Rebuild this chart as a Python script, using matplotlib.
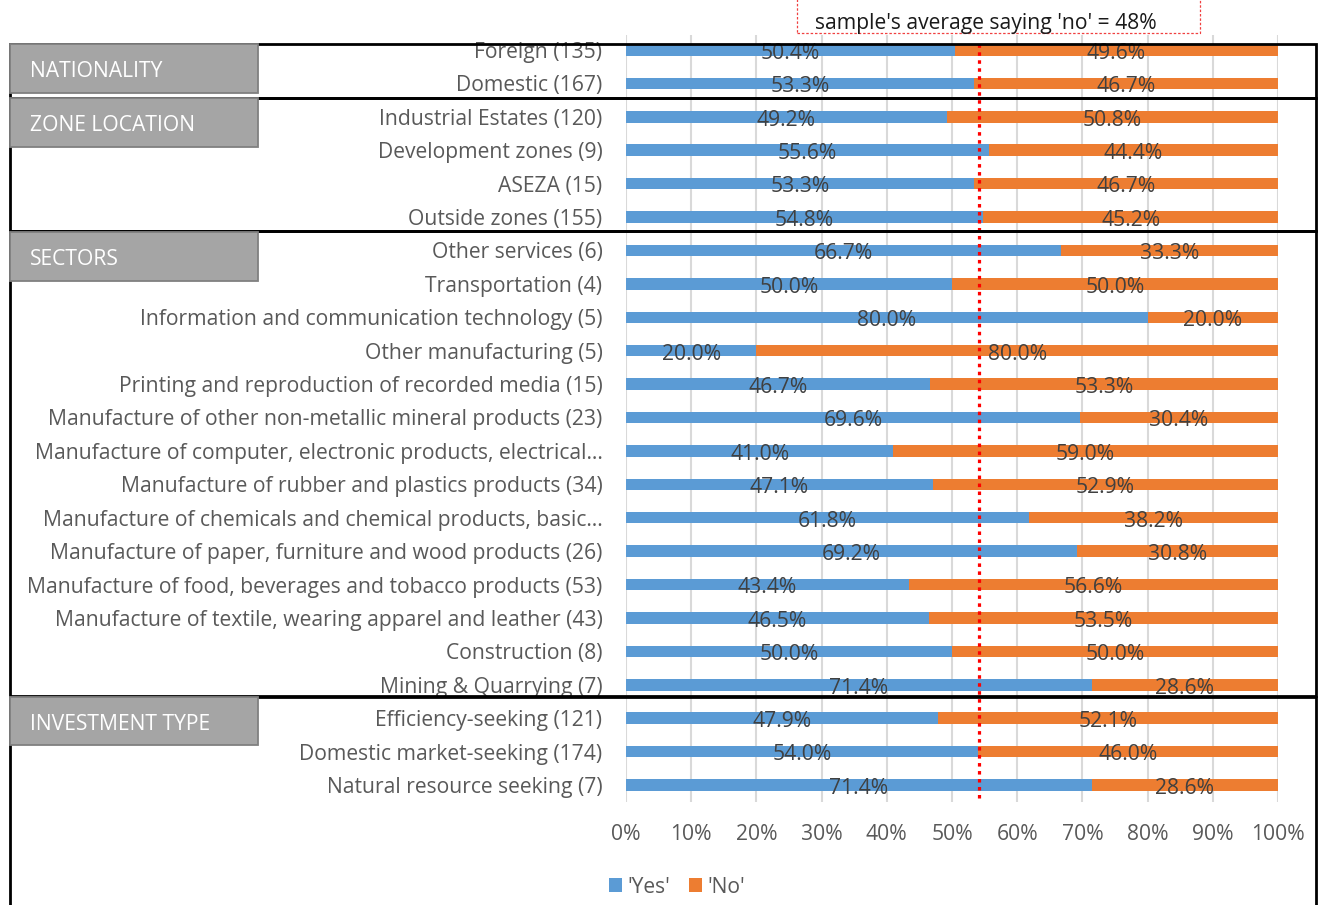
import matplotlib
matplotlib.use("Agg")
import matplotlib.pyplot as plt
from matplotlib.patches import Rectangle
import numpy as np

plt.rcParams['font.family'] = ['Open Sans', 'DejaVu Sans']

categories = [
    "Foreign (135)",
    "Domestic (167)",
    "Industrial Estates (120)",
    "Development zones (9)",
    "ASEZA (15)",
    "Outside zones (155)",
    "Other services (6)",
    "Transportation (4)",
    "Information and communication technology (5)",
    "Other manufacturing (5)",
    "Printing and reproduction of recorded media (15)",
    "Manufacture of other non-metallic mineral products (23)",
    "Manufacture of computer, electronic products, electrical\u2026",
    "Manufacture of rubber and plastics products (34)",
    "Manufacture of chemicals and chemical products, basic\u2026",
    "Manufacture of paper, furniture and wood products (26)",
    "Manufacture of food, beverages and tobacco products (53)",
    "Manufacture of textile, wearing apparel and leather (43)",
    "Construction (8)",
    "Mining & Quarrying (7)",
    "Efficiency-seeking (121)",
    "Domestic market-seeking (174)",
    "Natural resource seeking (7)",
]
yes_pct = [50.4, 53.3, 49.2, 55.6, 53.3, 54.8, 66.7, 50.0, 80.0, 20.0, 46.7,
           69.6, 41.0, 47.1, 61.8, 69.2, 43.4, 46.5, 50.0, 71.4, 47.9, 54.0, 71.4]
no_pct = [49.6, 46.7, 50.8, 44.4, 46.7, 45.2, 33.3, 50.0, 20.0, 80.0, 53.3,
          30.4, 59.0, 52.9, 38.2, 30.8, 56.6, 53.5, 50.0, 28.6, 52.1, 46.0, 28.6]
groups = ["NATIONALITY", "ZONE LOCATION", "SECTORS", "INVESTMENT TYPE"]
average_line = 54.2
average_text = "sample's average saying 'no' = 48%"
x_ticks = [0, 10, 20, 30, 40, 50, 60, 70, 80, 90, 100]

BLUE = "#5b9bd5"
ORANGE = "#ed7d31"
TXT = "#595959"
LBL = "#404040"
FS = 15.2

W, H = 1322, 905
fig = plt.figure(figsize=(W / 100, H / 100), dpi=100)


def fx(px):
    return px / W


def fy(py):
    return 1 - py / H


ax = fig.add_axes([fx(626), fy(802), fx(1278) - fx(626), (802 - 35) / H])

y = np.arange(len(categories))
bh = 0.345
ax.barh(y, yes_pct, height=bh, color=BLUE, label="'Yes'", zorder=2)
ax.barh(y, no_pct, left=yes_pct, height=bh, color=ORANGE, label="'No'", zorder=2)

for i in range(len(categories)):
    ax.text(yes_pct[i] / 2, y[i] + 0.1, f"{yes_pct[i]:.1f}%", ha="center",
            va="center", fontsize=FS, color=LBL, zorder=3)
    ax.text(yes_pct[i] + no_pct[i] / 2, y[i] + 0.1, f"{no_pct[i]:.1f}%",
            ha="center", va="center", fontsize=FS, color=LBL, zorder=3)

ax.set_xlim(0, 100)
ax.set_ylim(22.51, -0.45)
ax.set_yticks(y)
ax.set_yticklabels(categories, fontsize=FS, color=TXT)
ax.set_xticks(x_ticks)
ax.set_xticklabels([f"{t}%" for t in x_ticks], fontsize=FS, color=TXT)
ax.tick_params(axis="both", length=0)
ax.tick_params(axis="y", pad=17)
ax.tick_params(axis="x", pad=16)
for s in ax.spines.values():
    s.set_visible(False)
ax.grid(axis="x", color="#d9d9d9", linewidth=1.5, zorder=0)
ax.set_axisbelow(True)

ax.axvline(average_line, color="#ff0000", linewidth=2.3,
           linestyle=(0, (1.1, 1.4)), zorder=4, ymin=-0.005, ymax=0.99)

leg = ax.legend(loc="center", bbox_to_anchor=(fx(677), fy(887)),
                bbox_transform=fig.transFigure, ncol=2, frameon=False,
                fontsize=FS, handlelength=0.6, handleheight=0.6,
                handletextpad=0.25, columnspacing=0.9)
for t in leg.get_texts():
    t.set_color(TXT)

# group frames
frames = [(44, 98), (98, 231), (231, 696), (697, 920)]
for top, bot in frames:
    fig.patches.append(Rectangle((fx(10), fy(bot)), fx(1316) - fx(10),
                                 (bot - top) / H, transform=fig.transFigure,
                                 fill=False, edgecolor="black", linewidth=2.0,
                                 zorder=5))

# grey group labels
label_boxes = [(44, 93), (98, 147), (232, 281), (697, 745)]
for name, (top, bot) in zip(groups, label_boxes):
    fig.patches.append(Rectangle((fx(10), fy(bot)), fx(258) - fx(10),
                                 (bot - top) / H, transform=fig.transFigure,
                                 facecolor="#a5a5a5", edgecolor="#808080",
                                 linewidth=1.3, zorder=6))
    fig.text(fx(30), fy((top + bot) / 2 + 3), name, color="white", fontsize=FS,
             ha="left", va="center", zorder=7)

# annotation box
fig.patches.append(Rectangle((fx(797), fy(33)), fx(1200) - fx(797), 40 / H,
                             transform=fig.transFigure, fill=False,
                             edgecolor="#f04040", linewidth=0.9,
                             linestyle=(0, (2, 1.5)), zorder=5))
fig.text(fx(986), fy(24), average_text, ha="center", va="center", fontsize=FS,
         color="#1a1a1a", zorder=7)

fig.savefig("out.png", dpi=100)
